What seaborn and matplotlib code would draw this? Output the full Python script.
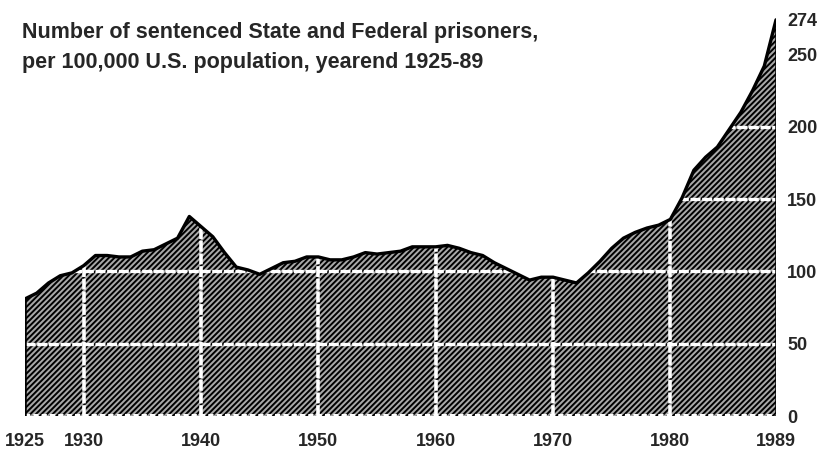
import numpy as np
import pandas as pd
import seaborn as sns
import matplotlib.pyplot as plt

# sentenced prisoners per 100,000 U.S. population, yearend
years = list(range(1925, 1990))
rates = [81, 85, 92, 97, 99, 104, 111, 111, 110, 110,
         114, 115, 119, 123, 138, 131, 124, 113, 103, 101,
         98, 102, 106, 107, 110, 110, 108, 108, 110, 113,
         112, 113, 114, 117, 117, 117, 118, 116, 113, 111,
         106, 102, 98, 94, 96, 96, 94, 92, 99, 107,
         116, 123, 127, 130, 132, 136, 151, 170, 179, 186,
         198, 210, 225, 242, 274]
grid_years = [1930, 1940, 1950, 1960, 1970, 1980]
grid_rates = [50, 100, 150, 200]
x_ticks = [1925, 1930, 1940, 1950, 1960, 1970, 1980, 1989]
y_ticks = [0, 50, 100, 150, 200, 250, 274]

df = pd.DataFrame({'year': years, 'rate': rates})

sns.set_style('white')
plt.rcParams['font.family'] = ['Liberation Sans', 'DejaVu Sans']
plt.rcParams['hatch.linewidth'] = 1.4

fig = plt.figure(figsize=(8.21, 4.54), dpi=100)
ax = fig.add_axes([0.0305, 0.0837, 0.9147, 0.879])

# halftone-like hatched area
ax.fill_between(df['year'], 0, df['rate'], facecolor='#a8a8a8',
                edgecolor='black', hatch='//////', linewidth=0)

# white grid only shows inside the filled area
for g in grid_rates:
    ax.plot([1925, 1989], [g, g], color='white', lw=2.4, ls=(0, (3, 0.5)))
for yr in grid_years:
    top = df.loc[df['year'] == yr, 'rate'].iloc[0]
    ax.plot([yr, yr], [0, top], color='white', lw=2.6, ls=(0, (3, 0.5)))
ax.plot([1925, 1989], [0.8, 0.8], color='white', lw=1.5, ls=(0, (2.5, 1.5)))

# outline
sns.lineplot(data=df, x='year', y='rate', color='black', lw=2.4, ax=ax)
ax.plot([1925, 1925], [0, rates[0]], color='black', lw=1.8)
ax.plot([1989, 1989], [0, rates[-1]], color='black', lw=1.8)

ax.set_xlim(1925, 1989)
ax.set_ylim(0, 276)
ax.yaxis.tick_right()
ax.set_yticks(y_ticks)
ax.set_yticklabels([str(v) for v in y_ticks], fontsize=13, fontweight='bold')
ax.set_xticks(x_ticks)
ax.set_xticklabels([str(v) for v in x_ticks], fontsize=13, fontweight='bold')
ax.tick_params(axis='y', length=0, pad=8)
ax.tick_params(axis='x', length=0, pad=12)
ax.set_xlabel('')
ax.set_ylabel('')
for s in ax.spines.values():
    s.set_visible(False)

fig.text(0.027, 0.850, 'Number of sentenced State and Federal prisoners,\n'
         'per 100,000 U.S. population, yearend 1925-89',
         fontsize=15.5, fontweight='bold', ha='left', va='baseline',
         linespacing=1.55)

fig.savefig('out.png', dpi=100)
